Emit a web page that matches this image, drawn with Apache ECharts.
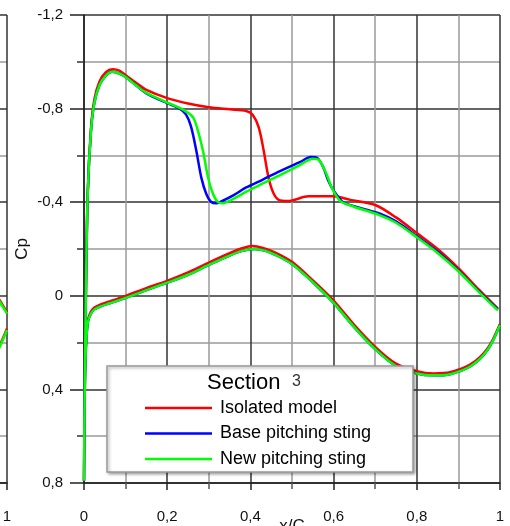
<!DOCTYPE html>
<html><head><meta charset="utf-8">
<script src="https://cdn.jsdelivr.net/npm/echarts@6/dist/echarts.min.js"></script>
<style>html,body{margin:0;padding:0;background:#fff}#c{width:510px;height:526px}</style>
</head><body><div id="c"></div>
<script>
// ---- Data (x/C, Cp) ----
const seriesNames = ['Isolated model', 'Base pitching sting', 'New pitching sting'];
const legendTitle = 'Section';
const legendSection = '3';
const xAxisName = 'x/C';
const yAxisName = 'Cp';

// Isolated model: upper (suction) surface, LE -> TE
const isoUpper = [[0,0.79],[0.0015,0.45],[0.0045,0.0],[0.009,-0.44],[0.017,-0.72],[0.025,-0.84],[0.037,-0.915],[0.052,-0.955],[0.07,-0.968],[0.085,-0.962],[0.1,-0.943],[0.125,-0.91],[0.15,-0.88],[0.2,-0.845],[0.25,-0.822],[0.3,-0.806],[0.35,-0.797],[0.39,-0.79],[0.405,-0.775],[0.42,-0.72],[0.432,-0.62],[0.443,-0.51],[0.455,-0.44],[0.468,-0.41],[0.49,-0.405],[0.54,-0.425],[0.6,-0.425],[0.64,-0.41],[0.7,-0.388],[0.75,-0.335],[0.8,-0.268],[0.85,-0.2],[0.9,-0.118],[0.95,-0.025],[0.995,0.055]];
// Isolated model: lower surface, LE -> TE
const isoLower = [[0,0.79],[0.0015,0.45],[0.004,0.236],[0.009,0.107],[0.016,0.07],[0.025,0.05],[0.04,0.037],[0.06,0.025],[0.08,0.013],[0.1,0.0],[0.15,-0.033],[0.2,-0.064],[0.25,-0.1],[0.3,-0.142],[0.35,-0.182],[0.38,-0.203],[0.405,-0.213],[0.43,-0.205],[0.46,-0.185],[0.5,-0.145],[0.55,-0.066],[0.6,0.02],[0.65,0.125],[0.7,0.218],[0.75,0.29],[0.8,0.322],[0.84,0.332],[0.88,0.327],[0.93,0.292],[0.97,0.225],[1.0,0.12]];

// Base pitching sting
const baseUpper = [[0,0.79],[0.0015,0.45],[0.0045,0.0],[0.009,-0.44],[0.017,-0.71],[0.025,-0.825],[0.037,-0.9],[0.052,-0.94],[0.068,-0.957],[0.085,-0.95],[0.1,-0.935],[0.125,-0.9],[0.15,-0.865],[0.2,-0.823],[0.23,-0.8],[0.245,-0.775],[0.257,-0.725],[0.27,-0.62],[0.282,-0.505],[0.294,-0.435],[0.305,-0.402],[0.318,-0.395],[0.33,-0.403],[0.36,-0.43],[0.39,-0.463],[0.43,-0.497],[0.47,-0.532],[0.52,-0.572],[0.545,-0.593],[0.56,-0.59],[0.575,-0.55],[0.587,-0.493],[0.6,-0.45],[0.623,-0.4],[0.66,-0.378],[0.71,-0.352],[0.75,-0.318],[0.8,-0.255],[0.85,-0.188],[0.9,-0.108],[0.95,-0.018],[0.995,0.058]];
const baseLower = [[0,0.79],[0.0015,0.45],[0.004,0.245],[0.009,0.115],[0.016,0.078],[0.025,0.058],[0.04,0.045],[0.06,0.033],[0.08,0.021],[0.1,0.009],[0.15,-0.024],[0.2,-0.056],[0.25,-0.09],[0.3,-0.132],[0.35,-0.172],[0.38,-0.192],[0.41,-0.2],[0.435,-0.193],[0.46,-0.175],[0.5,-0.136],[0.55,-0.058],[0.6,0.03],[0.65,0.135],[0.7,0.228],[0.75,0.3],[0.8,0.332],[0.84,0.34],[0.88,0.335],[0.93,0.3],[0.97,0.232],[1.0,0.125]];

// New pitching sting
const newUpper = [[0,0.79],[0.0015,0.45],[0.0045,0.0],[0.009,-0.44],[0.017,-0.71],[0.025,-0.825],[0.037,-0.9],[0.052,-0.94],[0.068,-0.957],[0.085,-0.95],[0.1,-0.935],[0.125,-0.9],[0.15,-0.867],[0.2,-0.826],[0.23,-0.803],[0.25,-0.782],[0.263,-0.76],[0.274,-0.705],[0.286,-0.62],[0.298,-0.507],[0.31,-0.436],[0.322,-0.4],[0.334,-0.396],[0.36,-0.415],[0.39,-0.445],[0.43,-0.48],[0.47,-0.515],[0.52,-0.56],[0.55,-0.586],[0.565,-0.58],[0.583,-0.52],[0.595,-0.464],[0.615,-0.407],[0.64,-0.386],[0.71,-0.345],[0.75,-0.312],[0.8,-0.25],[0.85,-0.183],[0.9,-0.105],[0.95,-0.015],[0.995,0.062]];
const newLower = [[0,0.79],[0.0015,0.45],[0.004,0.245],[0.009,0.115],[0.016,0.078],[0.025,0.058],[0.04,0.045],[0.06,0.033],[0.08,0.021],[0.1,0.009],[0.15,-0.024],[0.2,-0.056],[0.25,-0.09],[0.3,-0.132],[0.35,-0.172],[0.38,-0.192],[0.41,-0.2],[0.435,-0.193],[0.46,-0.175],[0.5,-0.136],[0.55,-0.058],[0.6,0.03],[0.65,0.135],[0.7,0.228],[0.75,0.3],[0.8,0.332],[0.84,0.34],[0.88,0.335],[0.93,0.3],[0.97,0.232],[1.0,0.125]];

// Neighbouring (cropped) panel on the left: only its trailing edge is visible
const leftIsoUpper = [[0.97,-0.02],[0.983,0.02],[1.0,0.07]];
const leftNewUpper = [[0.97,-0.015],[0.983,0.026],[1.0,0.076]];
const leftIsoLower = [[0.97,0.25],[0.983,0.21],[1.0,0.14]];
const leftNewLower = [[0.97,0.256],[0.983,0.216],[1.0,0.146]];

// Axis settings
const xMin = 0, xMax = 1, xStep = 0.2;
const yMin = -1.2, yMax = 0.8, yStep = 0.4;

const colors = ['#ff0000', '#0000ff', '#00ff00'];
const FONT = 'Liberation Sans, Arial, sans-serif';

function loop(upper, lower) {
  return upper.slice().reverse().concat(lower.slice(1));
}
function fmt(v) {
  if (Math.abs(v) < 1e-9) return '0';
  if (Math.abs(v - 1) < 1e-9) return '1';
  return (Math.round(v * 10) / 10).toFixed(1).replace('.', ',');
}

function xAxisCfg(gi, withName) {
  const a = {
    gridIndex: gi, type: 'value', min: xMin, max: xMax, interval: xStep,
    axisLine: { show: true, onZero: false, lineStyle: { color: '#222', width: 1.5 } },
    axisTick: { show: true, length: 7, lineStyle: { color: '#222', width: 1.5 } },
    minorTick: { show: true, splitNumber: 2, length: 6, lineStyle: { color: '#555', width: 1.5 } },
    splitLine: { show: true, lineStyle: { color: '#333', width: 1.5 } },
    minorSplitLine: { show: true, lineStyle: { color: '#9a9a9a', width: 1.5 } },
    axisLabel: { margin: 26, fontSize: 15, color: '#111', fontFamily: FONT, formatter: fmt }
  };
  if (withName) {
    a.name = xAxisName; a.nameLocation = 'middle'; a.nameGap = 35; a.nameMoveOverlap = false;
    a.nameTextStyle = { fontSize: 17, color: '#111', fontFamily: FONT };
  }
  return a;
}
function yAxisCfg(gi, withName) {
  const a = {
    gridIndex: gi, type: 'value', min: yMin, max: yMax, interval: yStep, inverse: true,
    axisLine: { show: true, onZero: false, lineStyle: { color: '#222', width: 1.5 } },
    axisTick: { show: true, length: 14, lineStyle: { color: '#222', width: 1.5 } },
    minorTick: { show: true, splitNumber: 2, length: 7, lineStyle: { color: '#333', width: 1.5 } },
    splitLine: { show: true, lineStyle: { color: '#333', width: 1.5 } },
    minorSplitLine: { show: true, lineStyle: { color: '#9a9a9a', width: 1.5 } },
    axisLabel: { margin: 21, fontSize: 15, color: '#111', fontFamily: FONT, formatter: fmt }
  };
  if (withName) {
    a.name = yAxisName; a.nameLocation = 'middle'; a.nameGap = 53; a.nameRotate = 90; a.nameMoveOverlap = false;
    a.nameTextStyle = { fontSize: 17, color: '#111', fontFamily: FONT };
  }
  return a;
}

function mainSeries(i, data) {
  return {
    name: seriesNames[i], type: 'line', xAxisIndex: 0, yAxisIndex: 0,
    data: data, symbol: 'none', smooth: 0.3, z: 3 + i,
    lineStyle: { color: colors[i], width: 2.5 }, itemStyle: { color: colors[i] }
  };
}
function leftSeries(name, color, data) {
  return {
    name: name, type: 'line', xAxisIndex: 1, yAxisIndex: 1,
    data: data, symbol: 'none', smooth: 0.3,
    lineStyle: { color: color, width: 2.5 }, itemStyle: { color: color }
  };
}

const chart = echarts.init(document.getElementById('c'), null, { renderer: 'canvas' });
chart.setOption({
  animation: false,
  backgroundColor: '#fff',
  grid: [
    { left: 84, top: 15, width: 416, height: 468, outerBoundsMode: 'none', containLabel: false },
    { left: -409, top: 15, width: 416, height: 468, outerBoundsMode: 'none', containLabel: false }
  ],
  xAxis: [xAxisCfg(0, true), xAxisCfg(1, false)],
  yAxis: [yAxisCfg(0, true), yAxisCfg(1, false)],
  legend: {
    data: seriesNames.map(n => ({ name: n, icon: 'rect' })),
    orient: 'vertical', left: 140, top: 393,
    itemWidth: 67, itemHeight: 2.5, itemGap: 5.5, selectedMode: false, z: 20,
    textStyle: { fontSize: 18, color: '#000', fontFamily: FONT, lineHeight: 20, padding: [0, 0, 0, 3] }
  },
  graphic: [
    { type: 'rect', z: 10, shape: { x: 107, y: 366, width: 306, height: 106 },
      style: { fill: '#fff', stroke: '#999', lineWidth: 1.5, shadowBlur: 3, shadowColor: 'rgba(0,0,0,0.35)', shadowOffsetX: 1.5, shadowOffsetY: 1.5 } },
    { type: 'text', z: 20, x: 207, y: 383,
      style: { text: legendTitle, fontSize: 22, fontFamily: FONT, fill: '#000', verticalAlign: 'middle' } },
    { type: 'text', z: 20, x: 292, y: 382,
      style: { text: legendSection, fontSize: 16, fontFamily: FONT, fill: '#333', verticalAlign: 'middle' } }
  ],
  series: [
    mainSeries(0, loop(isoUpper, isoLower)),
    mainSeries(1, loop(baseUpper, baseLower)),
    mainSeries(2, loop(newUpper, newLower)),
    leftSeries('left-iso-upper', colors[0], leftIsoUpper),
    leftSeries('left-new-upper', colors[2], leftNewUpper),
    leftSeries('left-iso-lower', colors[0], leftIsoLower),
    leftSeries('left-new-lower', colors[2], leftNewLower)
  ]
});
</script></body></html>
